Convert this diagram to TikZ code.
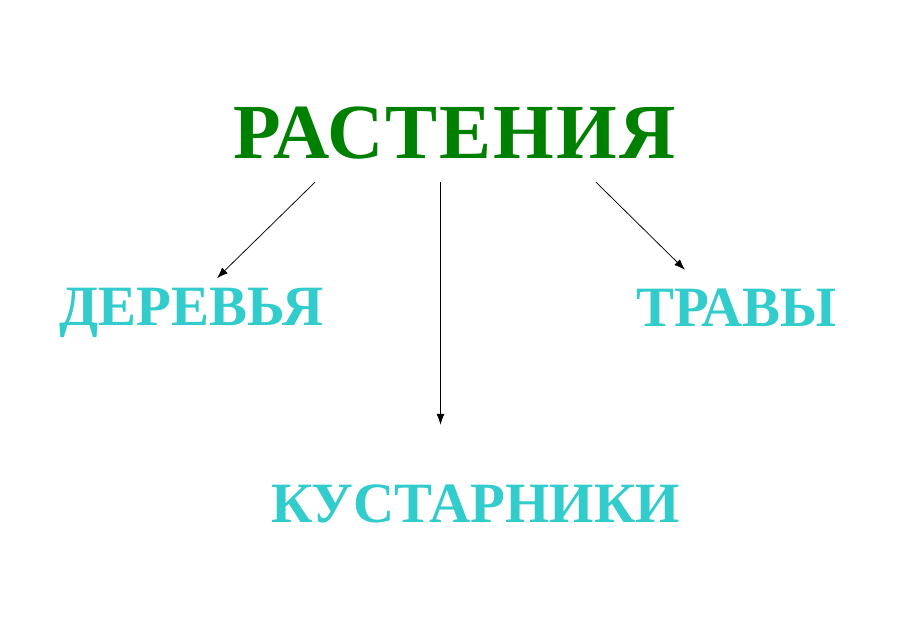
\documentclass[tikz,border=0pt]{standalone}
\usepackage{fontspec}
\setmainfont{Liberation Serif}
\usetikzlibrary{arrows.meta,positioning}
\definecolor{plantgreen}{RGB}{0,128,0}
\definecolor{kindcyan}{RGB}{51,204,204}
\tikzset{
topword/.style={
  inner sep=0pt, anchor=base, text depth=0pt,
  font=\fontsize{78}{86}\selectfont\bfseries\addfontfeature{LetterSpace=2.5},
  text=plantgreen
  },
kindword/.style={
  inner sep=0pt, anchor=base, text depth=0pt,
  font=\fontsize{57}{62}\selectfont\bfseries, text=kindcyan
  }
}
\begin{document}
\begin{tikzpicture}[x=1pt,y=-1pt,>={Latex[length=11pt,width=8pt]}]
\useasboundingbox (0,0) rectangle (910,644);

\node[topword] at (454.5,158.5) (plants) {РАСТЕНИЯ};

\node[kindword] at (191.5,325) (trees) {ДЕРЕВЬЯ};
\node[kindword] at (736.5,326) (grass) {ТРАВЫ};
\node[kindword] at (475.5,522) (shrubs) {КУСТАРНИКИ};

\draw[->,line width=0.75pt]
  ([xshift=-139.5pt, yshift=-23.5pt]plants.south) -- ([xshift=25.5pt, yshift=9.3pt]trees.north);
\draw[->,line width=0.75pt]
  ([xshift=-14pt, yshift=-23.5pt]plants.south) -- ([xshift=-35pt, yshift=59.3pt]shrubs.north);
\draw[->,line width=0.75pt]
  ([xshift=141.5pt, yshift=-23.5pt]plants.south) -- ([xshift=-51.5pt, yshift=18.3pt]grass.north);

\end{tikzpicture}
\end{document}
